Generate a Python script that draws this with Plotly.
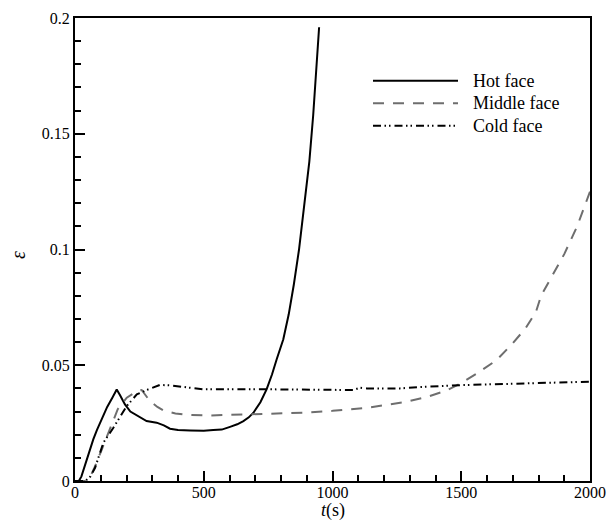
import plotly.graph_objects as go

# ---- data ----
t_hot = [0, 15, 25, 43, 71, 85, 110, 125, 145, 162, 175, 194, 215, 240, 278, 317, 345, 369, 400, 447,
         500, 537, 570, 602, 630, 654, 675, 693, 720, 744, 765, 783, 809, 830, 850, 870, 890, 910, 925,
         940, 948]
eps_hot = [0, 0, 0.002, 0.0086, 0.018, 0.022, 0.028, 0.032, 0.036, 0.0395, 0.037, 0.0331, 0.030,
           0.0283, 0.0259, 0.0252, 0.024, 0.0226, 0.022, 0.0218, 0.0217, 0.022, 0.0222, 0.0234, 0.0245,
           0.0259, 0.0275, 0.0295, 0.034, 0.0396, 0.046, 0.0525, 0.0612, 0.072, 0.085, 0.1, 0.118,
           0.138, 0.158, 0.18, 0.196]

t_mid = [0, 40, 60, 78, 104, 136, 166, 201, 240, 259, 275, 291, 320, 343, 390, 434, 524, 600, 693,
         800, 887, 1000, 1133, 1197, 1282, 1366, 1443, 1495, 1566, 1638, 1696, 1750, 1790, 1810, 1850,
         1900, 1950, 2000]
eps_mid = [0, 0, 0.002, 0.0064, 0.0136, 0.023, 0.031, 0.036, 0.0388, 0.0393, 0.037, 0.0345, 0.032,
           0.0305, 0.0292, 0.0286, 0.0283, 0.0285, 0.0289, 0.0292, 0.0295, 0.0303, 0.0316, 0.0327,
           0.0341, 0.0363, 0.0391, 0.042, 0.0468, 0.0523, 0.059, 0.066, 0.073, 0.08, 0.088, 0.098,
           0.11, 0.125]

t_cold = [0, 40, 60, 78, 110, 149, 201, 240, 278, 330, 369, 498, 757, 1081, 1107, 1133, 1262, 1340,
          1495, 1689, 1987, 2000]
eps_cold = [0, 0, 0.002, 0.0057, 0.0165, 0.023, 0.0324, 0.0374, 0.0393, 0.0415, 0.0413, 0.0396,
            0.0396, 0.0393, 0.0403, 0.040, 0.040, 0.0406, 0.0414, 0.042, 0.0429, 0.0429]

series_names = ["Hot face", "Middle face", "Cold face"]
x_tickvals = [0, 500, 1000, 1500, 2000]
y_tickvals = [0, 0.05, 0.1, 0.15, 0.2]
y_ticktext = ["0", "0.05", "0.1", "0.15", "0.2"]

FONT = "Liberation Serif, Times New Roman, serif"
HOT_STYLE = dict(color="black", width=2, dash="solid")
MID_STYLE = dict(color="#6e6e6e", width=2, dash="11px,9px")
COLD_STYLE = dict(color="black", width=2, dash="8px,3.5px,1.5px,3px,1.5px,4px")

fig = go.Figure()
fig.add_trace(go.Scatter(x=t_hot, y=eps_hot, mode="lines", name=series_names[0], line=HOT_STYLE))
fig.add_trace(go.Scatter(x=t_mid, y=eps_mid, mode="lines", name=series_names[1], line=MID_STYLE))
fig.add_trace(go.Scatter(x=t_cold, y=eps_cold, mode="lines", name=series_names[2], line=COLD_STYLE))

W, H = 608, 521
L, R, T, B = 75, 18, 18, 40

fig.update_layout(
    width=W, height=H,
    margin=dict(l=L, r=R, t=T, b=B, autoexpand=False),
    paper_bgcolor="white", plot_bgcolor="white",
    showlegend=False,
    font=dict(family=FONT, size=16, color="black"),
)

fig.update_xaxes(
    range=[0, 2000], tickvals=x_tickvals, ticks="inside", ticklen=10, tickwidth=2, tickcolor="black",
    minor=dict(ticks="inside", dtick=100, ticklen=6, tickwidth=1.5, tickcolor="black"),
    showline=True, linewidth=2, linecolor="black", mirror=True, showgrid=False, zeroline=False,
    tickfont=dict(size=16, family=FONT), automargin=False, ticklabelstandoff=-4,
)
fig.update_yaxes(
    range=[0, 0.2], tickvals=y_tickvals, ticktext=y_ticktext, ticks="inside", ticklen=10, tickwidth=2,
    tickcolor="black",
    minor=dict(ticks="inside", dtick=0.01, ticklen=6, tickwidth=1.5, tickcolor="black"),
    showline=True, linewidth=2, linecolor="black", mirror=True, showgrid=False, zeroline=False,
    tickfont=dict(size=16, family=FONT), automargin=False,
)

pw = W - L - R
ph = H - T - B
def px_x(x):
    return (x - L) / pw
def px_y(y):
    return (H - B - y) / ph

# axis titles as annotations at fixed pixel positions
fig.add_annotation(xref="paper", yref="paper", x=0.5, y=px_y(511), text="<i>t</i>(s)",
                   showarrow=False, xanchor="center", yanchor="middle",
                   font=dict(size=18, family=FONT, color="black"))
fig.add_annotation(xref="paper", yref="paper", x=px_x(18), y=px_y(255), text="<i>ε</i>",
                   showarrow=False, xanchor="center", yanchor="middle", textangle=-90,
                   font=dict(size=20, family=FONT, color="black"))

# ---- manual legend (paper coordinates from pixel positions) ----
legend_rows = [(80.7, HOT_STYLE), (103.3, MID_STYLE), (125.7, COLD_STYLE)]
for (yy, st), name in zip(legend_rows, series_names):
    fig.add_shape(type="line", xref="paper", yref="paper",
                  x0=px_x(373), x1=px_x(458), y0=px_y(yy), y1=px_y(yy),
                  line=dict(color=st["color"], width=st["width"], dash=st["dash"]))
    fig.add_annotation(xref="paper", yref="paper", x=px_x(471), y=px_y(yy), text=name,
                       showarrow=False, xanchor="left", yanchor="middle",
                       font=dict(size=18, family=FONT, color="black"))

fig.write_html("out.html", config={"displayModeBar": False},
               post_script="document.body.style.margin='0';document.body.style.padding='0';")
